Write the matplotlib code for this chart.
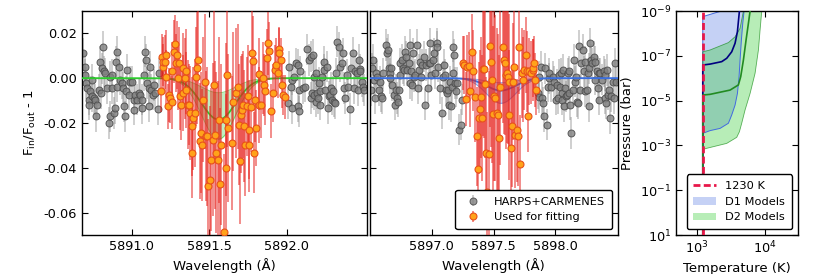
import numpy as np
import matplotlib
matplotlib.use('Agg')
import matplotlib.pyplot as plt
from matplotlib.ticker import FixedLocator, NullLocator, FormatStrFormatter

plt.rcParams['font.family'] = 'DejaVu Sans'
plt.rcParams['mathtext.fontset'] = 'dejavusans'
plt.rcParams['xtick.direction'] = 'in'
plt.rcParams['ytick.direction'] = 'in'
plt.rcParams['xtick.top'] = True
plt.rcParams['ytick.right'] = True
plt.rcParams['xtick.major.size'] = 4
plt.rcParams['ytick.major.size'] = 4
plt.rcParams['axes.linewidth'] = 1.0

# ---- Na D2 panel (5891.6 A) ----
wl_grey_d2 = [5890.684, 5890.699, 5890.699, 5890.705, 5890.710, 5890.720, 5890.722, 5890.731,
              5890.742, 5890.742, 5890.753, 5890.763, 5890.765, 5890.774, 5890.785, 5890.796,
              5890.798, 5890.806, 5890.813, 5890.817, 5890.828, 5890.839, 5890.849, 5890.856,
              5890.860, 5890.871, 5890.873, 5890.882, 5890.892, 5890.894, 5890.903, 5890.905,
              5890.914, 5890.925, 5890.935, 5890.942, 5890.946, 5890.957, 5890.959, 5890.968,
              5890.978, 5890.989, 5891.000, 5891.011, 5891.015, 5891.021, 5891.032, 5891.043,
              5891.054, 5891.064, 5891.066, 5891.075, 5891.086, 5891.092, 5891.097, 5891.107,
              5891.109, 5891.118, 5891.122, 5891.135, 5891.140, 5891.152, 5891.170, 5891.176,
              5892.006, 5892.017, 5892.028, 5892.034, 5892.038, 5892.049, 5892.060, 5892.071,
              5892.071, 5892.077, 5892.081, 5892.086, 5892.107, 5892.116, 5892.133, 5892.144,
              5892.155, 5892.159, 5892.165, 5892.172, 5892.176, 5892.180, 5892.187, 5892.193,
              5892.198, 5892.202, 5892.208, 5892.215, 5892.219, 5892.230, 5892.241, 5892.245,
              5892.251, 5892.262, 5892.266, 5892.273, 5892.279, 5892.284, 5892.294, 5892.301,
              5892.305, 5892.316, 5892.322, 5892.327, 5892.337, 5892.348, 5892.359, 5892.365,
              5892.370, 5892.380, 5892.391, 5892.395, 5892.408, 5892.417, 5892.430, 5892.434,
              5892.445, 5892.456, 5892.460, 5892.466, 5892.473, 5892.477, 5892.488, 5892.494,
              5892.499]
fl_grey_d2 = [0.0111, 0.0052, 0.0015, -0.0022, -0.0044, -0.0096, -0.0118, -0.0059,
              -0.0007, -0.0081, -0.0089, -0.0096, -0.0170, -0.0118, -0.0052, 0.0074,
              -0.0067, 0.0044, 0.0141, 0.0030, 0.0022, -0.0044, -0.0200, -0.0170,
              0.0007, -0.0044, 0.0015, -0.0155, -0.0133, 0.0074, 0.0118, -0.0037,
              0.0052, -0.0007, -0.0022, -0.0044, -0.0126, -0.0170, -0.0059, 0.0037,
              -0.0074, -0.0015, -0.0015, -0.0096, -0.0141, -0.0074, -0.0096, -0.0067,
              -0.0074, -0.0096, -0.0133, 0.0015, 0.0118, 0.0081, -0.0022, -0.0044,
              -0.0126, 0.0052, -0.0052, -0.0074, -0.0030, -0.0067, -0.0138, 0.0022,
              -0.0111, 0.0052, -0.0037, -0.0007, -0.0133, 0.0007, 0.0067, 0.0059,
              -0.0126, -0.0052, -0.0148, 0.0030, -0.0044, -0.0037, 0.0129, 0.0081,
              -0.0089, 0.0096, -0.0064, 0.0104, -0.0074, 0.0007, 0.0022, -0.0104,
              -0.0067, -0.0089, -0.0022, -0.0059, -0.0118, 0.0007, 0.0037, 0.0074,
              -0.0052, 0.0052, -0.0133, -0.0081, -0.0074, -0.0044, -0.0096, -0.0059,
              -0.0104, -0.0111, 0.0022, 0.0163, 0.0138, 0.0052, 0.0067, 0.0111,
              -0.0044, -0.0089, 0.0015, -0.0037, -0.0138, 0.0044, 0.0114, -0.0044,
              0.0030, 0.0022, -0.0052, 0.0081, 0.0040, 0.0030, -0.0015, -0.0037,
              -0.0052]
err_grey_d2 = 0.007

wl_fit_d2 = [5891.185, 5891.191, 5891.198, 5891.202, 5891.213, 5891.219, 5891.223, 5891.234,
             5891.241, 5891.245, 5891.256, 5891.262, 5891.271, 5891.277, 5891.284, 5891.292,
             5891.299, 5891.305, 5891.309, 5891.320, 5891.327, 5891.331, 5891.342, 5891.348,
             5891.352, 5891.363, 5891.370, 5891.374, 5891.385, 5891.391, 5891.395, 5891.406,
             5891.413, 5891.421, 5891.428, 5891.438, 5891.449, 5891.456, 5891.460, 5891.471,
             5891.477, 5891.486, 5891.492, 5891.503, 5891.514, 5891.524, 5891.529, 5891.535,
             5891.546, 5891.557, 5891.563, 5891.567, 5891.578, 5891.593, 5891.606, 5891.610,
             5891.615, 5891.621, 5891.647, 5891.656, 5891.673, 5891.684, 5891.690, 5891.699,
             5891.705, 5891.712, 5891.720, 5891.727, 5891.733, 5891.742, 5891.748, 5891.755,
             5891.759, 5891.770, 5891.776, 5891.780, 5891.791, 5891.798, 5891.802, 5891.819,
             5891.823, 5891.834, 5891.845, 5891.856, 5891.862, 5891.871, 5891.877, 5891.888,
             5891.899, 5891.909, 5891.927, 5891.931, 5891.942, 5891.948, 5891.953, 5891.963,
             5891.970, 5891.978, 5891.991]
fl_fit_d2 = [-0.0059, 0.0096, 0.0052, 0.0074, 0.0074, 0.0104, 0.0007, -0.0126,
             -0.0074, -0.0089, 0.0030, -0.0108, 0.0118, 0.0151, 0.0067, 0.0104,
             0.0000, 0.0067, -0.0081, -0.0118, -0.0067, 0.0044, 0.0000, -0.0052,
             0.0030, -0.0118, -0.0118, -0.0155, -0.0215, -0.0333, -0.0178, -0.0155,
             0.0007, 0.0044, 0.0081, -0.0281, -0.0244, -0.0296, -0.0096, -0.0015,
             -0.0259, -0.0259, -0.0481, -0.0454, -0.0363, -0.0274, -0.0030, -0.0252,
             -0.0333, -0.0363, -0.0185, -0.0474, -0.0296, -0.0688, -0.0185, -0.0400,
             0.0015, -0.0222, -0.0289, -0.0104, -0.0067, -0.0037, -0.0207, -0.0370,
             -0.0163, -0.0141, -0.0118, -0.0215, -0.0296, -0.0126, -0.0081, -0.0296,
             -0.0229, -0.0130, 0.0111, 0.0078, -0.0333, -0.0096, -0.0222, 0.0019,
             -0.0118, -0.0118, 0.0000, -0.0030, -0.0059, 0.0089, 0.0155, 0.0121,
             -0.0148, -0.0067, 0.0037, 0.0059, 0.0022, 0.0129, 0.0114, 0.0081,
             -0.0031, -0.0074, -0.0084]
er_fit_d2 = [0.009, 0.010, 0.010, 0.011, 0.012, 0.011, 0.012, 0.010,
             0.012, 0.011, 0.013, 0.012, 0.014, 0.013, 0.013, 0.015,
             0.014, 0.016, 0.015, 0.016, 0.017, 0.016, 0.018, 0.017,
             0.019, 0.020, 0.018, 0.021, 0.022, 0.020, 0.023, 0.024,
             0.022, 0.025, 0.024, 0.026, 0.027, 0.025, 0.028, 0.030,
             0.029, 0.031, 0.030, 0.033, 0.032, 0.034, 0.035, 0.033,
             0.036, 0.035, 0.037, 0.034, 0.036, 0.035, 0.034, 0.033,
             0.032, 0.033, 0.030, 0.031, 0.029, 0.028, 0.027, 0.028,
             0.026, 0.025, 0.024, 0.025, 0.023, 0.022, 0.023, 0.021,
             0.022, 0.020, 0.019, 0.020, 0.018, 0.019, 0.017, 0.016,
             0.017, 0.015, 0.016, 0.014, 0.015, 0.013, 0.014, 0.013,
             0.012, 0.013, 0.011, 0.012, 0.011, 0.010, 0.011, 0.010,
             0.010, 0.009, 0.010]

# gaussian fit: centre, width, depth (median, shallow, deep)
d2_centre, d2_sigma = 5891.56, 0.11
d2_depth, d2_depth_lo, d2_depth_hi = 0.0185, 0.0065, 0.0272

# ---- Na D1 panel (5897.6 A) ----
wl_grey_d1 = [5896.510, 5896.519, 5896.527, 5896.532, 5896.537, 5896.545, 5896.559, 5896.572,
              5896.580, 5896.586, 5896.599, 5896.607, 5896.626, 5896.639, 5896.645, 5896.653,
              5896.661, 5896.666, 5896.672, 5896.680, 5896.693, 5896.699, 5896.707, 5896.720,
              5896.726, 5896.734, 5896.742, 5896.747, 5896.760, 5896.769, 5896.779, 5896.787,
              5896.795, 5896.801, 5896.814, 5896.822, 5896.828, 5896.833, 5896.841, 5896.849,
              5896.855, 5896.868, 5896.881, 5896.887, 5896.895, 5896.908, 5896.914, 5896.922,
              5896.935, 5896.949, 5896.957, 5896.967, 5896.976, 5896.984, 5896.989, 5896.994,
              5897.013, 5897.019, 5897.027, 5897.040, 5897.045, 5897.054, 5897.067, 5897.080,
              5897.088, 5897.099, 5897.107, 5897.115, 5897.126, 5897.134, 5897.142, 5897.148,
              5897.153, 5897.161, 5897.169, 5897.175, 5897.180, 5897.188, 5897.196, 5897.207,
              5897.223, 5897.234, 5897.242,
              5897.857, 5897.865, 5897.871, 5897.884, 5897.892, 5897.898, 5897.911, 5897.919,
              5897.930, 5897.938, 5897.946, 5897.951, 5897.965, 5897.978, 5897.992, 5898.005,
              5898.011, 5898.024, 5898.029, 5898.035, 5898.043, 5898.051, 5898.056, 5898.062,
              5898.070, 5898.078, 5898.083, 5898.096, 5898.105, 5898.110, 5898.115, 5898.123,
              5898.131, 5898.142, 5898.150, 5898.158, 5898.169, 5898.177, 5898.185, 5898.196,
              5898.204, 5898.212, 5898.223, 5898.231, 5898.239, 5898.244, 5898.258, 5898.266,
              5898.271, 5898.277, 5898.285, 5898.293, 5898.298, 5898.312, 5898.320, 5898.325,
              5898.338, 5898.346, 5898.352, 5898.357, 5898.365, 5898.379, 5898.392, 5898.400,
              5898.406, 5898.411, 5898.419, 5898.427, 5898.438, 5898.446, 5898.454, 5898.465,
              5898.473, 5898.486, 5898.492]
fl_grey_d1 = [-0.0052, 0.0044, 0.0081, -0.0007, -0.0089, 0.0022, 0.0007, -0.0052,
              -0.0015, -0.0081, -0.0089, 0.0022, 0.0148, 0.0111, 0.0126, 0.0044,
              0.0022, 0.0000, 0.0044, -0.0030, -0.0074, -0.0118, -0.0052, -0.0089,
              -0.0104, -0.0052, 0.0067, 0.0015, 0.0081, 0.0044, 0.0037, 0.0118,
              0.0096, 0.0037, 0.0067, 0.0148, -0.0022, 0.0030, -0.0030, 0.0111,
              0.0007, 0.0015, 0.0148, -0.0044, 0.0037, 0.0074, 0.0007, 0.0059,
              0.0096, -0.0118, 0.0059, -0.0044, 0.0067, 0.0155, 0.0067, 0.0015,
              0.0081, 0.0111, 0.0022, 0.0155, 0.0141, 0.0052, -0.0044, -0.0155,
              0.0007, 0.0059, 0.0015, -0.0052, -0.0067, -0.0052, -0.0118, -0.0015,
              -0.0126, -0.0037, 0.0141, 0.0022, 0.0104, -0.0022, -0.0059, -0.0022,
              -0.0229, -0.0207, -0.0096,
              -0.0067, -0.0084, 0.0007, 0.0052, -0.0089, -0.0111, -0.0170, 0.0044,
              -0.0207, -0.0037, 0.0000, 0.0022, -0.0037, 0.0007, -0.0015, -0.0096,
              -0.0030, -0.0089, 0.0015, -0.0037, 0.0022, -0.0067, -0.0096, 0.0037,
              -0.0126, -0.0044, -0.0081, -0.0074, 0.0022, -0.0067, 0.0030, -0.0118,
              -0.0244, -0.0052, 0.0081, -0.0015, 0.0007, -0.0104, -0.0111, 0.0144,
              -0.0052, 0.0067, 0.0126, 0.0030, -0.0059, 0.0074, -0.0052, 0.0022,
              -0.0126, 0.0044, 0.0155, 0.0081, 0.0067, 0.0096, 0.0074, -0.0007,
              0.0030, -0.0044, 0.0022, -0.0096, 0.0022, -0.0007, 0.0030, -0.0089,
              0.0015, -0.0111, 0.0037, -0.0074, -0.0052, -0.0178, -0.0081, -0.0015,
              -0.0089, 0.0067, -0.0015]
err_grey_d1 = 0.007

wl_fit_d1 = [5897.250, 5897.260, 5897.277, 5897.287, 5897.303, 5897.309, 5897.322, 5897.330,
             5897.349, 5897.363, 5897.376, 5897.384, 5897.389, 5897.395, 5897.403, 5897.411,
             5897.422, 5897.430, 5897.443, 5897.450, 5897.465, 5897.470, 5897.476, 5897.484,
             5897.492, 5897.502, 5897.516, 5897.527, 5897.535, 5897.543, 5897.554, 5897.575,
             5897.588, 5897.597, 5897.602, 5897.607, 5897.615, 5897.623, 5897.629, 5897.642,
             5897.650, 5897.661, 5897.669, 5897.677, 5897.688, 5897.696, 5897.709, 5897.715,
             5897.731, 5897.742, 5897.750, 5897.763, 5897.769, 5897.777, 5897.790, 5897.804,
             5897.817, 5897.822, 5897.830, 5897.838, 5897.844]
fl_fit_d1 = [0.0067, 0.0059, -0.0093, 0.0052, 0.0055, -0.0059, 0.0118, 0.0034,
             -0.0084, -0.0259, -0.0407, -0.0178, -0.0136, -0.0084, -0.0178, 0.0040,
             0.0041, -0.0025, -0.0333, -0.0510, -0.0340, 0.0144, 0.0071, -0.0010,
             -0.0158, -0.0078, -0.0089, -0.0155, -0.0163, -0.0266, -0.0037, 0.0141,
             0.0081, 0.0067, 0.0015, 0.0022, 0.0007, -0.0163, -0.0015, -0.0311,
             -0.0215, -0.0015, 0.0052, -0.0252, -0.0232, -0.0259, 0.0141, -0.0385,
             0.0022, -0.0007, 0.0037, 0.0104, 0.0030, -0.0170, 0.0030, 0.0025,
             0.0037, 0.0044, 0.0067, -0.0007, -0.0052]
er_fit_d1 = [0.012, 0.013, 0.012, 0.014, 0.015, 0.016, 0.017, 0.018,
             0.020, 0.022, 0.024, 0.025, 0.026, 0.027, 0.028, 0.030,
             0.031, 0.033, 0.034, 0.036, 0.037, 0.036, 0.038, 0.037,
             0.039, 0.038, 0.037, 0.038, 0.036, 0.037, 0.035, 0.034,
             0.033, 0.032, 0.033, 0.031, 0.030, 0.029, 0.030, 0.028,
             0.027, 0.026, 0.025, 0.024, 0.023, 0.022, 0.021, 0.022,
             0.020, 0.019, 0.018, 0.017, 0.018, 0.016, 0.015, 0.014,
             0.014, 0.013, 0.012, 0.012, 0.011]

d1_centre, d1_sigma = 5897.56, 0.12
d1_depth, d1_depth_lo, d1_depth_hi = 0.0055, 0.0020, 0.0112

# ---- temperature-pressure panel ----
t_iso = 1230
d1_lo_T = [1230, 1230, 1700, 2300]
d1_lo_logP = [1.0, -8.75, -8.88, -9.0]
d1_hi_T = [1230, 1230, 1571, 2199, 2911, 3256, 3643, 3944, 4169, 4310, 4508, 4718, 4932]
d1_hi_logP = [1.0, -3.54, -3.66, -3.76, -3.99, -4.36, -4.80, -5.32, -6.07, -6.81, -7.71, -8.45, -9.0]
d1_med_T = [1230, 1230, 1571, 2326, 2752, 3256, 3643, 3944, 4217]
d1_med_logP = [1.0, -6.59, -6.63, -6.74, -6.89, -7.18, -7.56, -8.08, -9.0]

d2_lo_T = [1230, 1230, 1571, 2080, 2911, 3643, 4310, 4822]
d2_lo_logP = [1.0, -7.18, -7.26, -7.41, -7.59, -7.85, -8.23, -9.0]
d2_hi_T = [1230, 1230, 1404, 2752, 3853, 4217, 4559, 5100, 6039, 7144, 7994, 8451, 8940]
d2_hi_logP = [1.0, -2.82, -2.87, -3.09, -3.36, -3.61, -3.99, -4.58, -5.32, -6.22, -7.26, -8.15, -9.0]
d2_med_T = [1230, 1230, 1571, 3079, 4075, 4406, 4822, 5277, 5706, 6039]
d2_med_logP = [1.0, -5.25, -5.28, -5.47, -5.70, -6.07, -6.81, -7.71, -8.45, -9.0]


fig = plt.figure(figsize=(8.22, 2.74), dpi=100)
ax1 = fig.add_axes([0.0998, 0.1423, 0.3467, 0.8175])
ax2 = fig.add_axes([0.4501, 0.1423, 0.3013, 0.8175], sharey=ax1)
ax3 = fig.add_axes([0.8224, 0.1423, 0.1481, 0.8175])

grey_kw = dict(fmt='o', ms=5, mfc=(0.5, 0.5, 0.5, 0.8), mec=(0.3, 0.3, 0.3, 0.9), mew=0.7,
               ecolor=(0.55, 0.55, 0.55, 0.45), elinewidth=1.3, capsize=0, zorder=2)
fit_kw = dict(fmt='o', ms=5, mfc='#ffa31a', mec='#e8501a', mew=0.8,
              ecolor=(0.9, 0.12, 0.1, 0.55), elinewidth=1.3, capsize=0, zorder=4)


def model_panel(ax, xlim, centre, sigma, depths, line_col, fill_col):
    x = np.linspace(xlim[0], xlim[1], 600)
    prof = np.exp(-0.5 * ((x - centre) / sigma) ** 2)
    d_med, d_lo, d_hi = depths
    ax.fill_between(x, -d_lo * prof, -d_hi * prof, color=fill_col, alpha=0.3, lw=0, zorder=3)
    ax.plot(x, -d_lo * prof, color=line_col, lw=0.7, alpha=0.6, zorder=3)
    ax.plot(x, -d_hi * prof, color=line_col, lw=0.7, alpha=0.6, zorder=3)
    ax.plot(x, -d_med * prof, color=line_col, lw=1.3, zorder=3)


xlim1 = (5890.677, 5892.52)
ax1.errorbar(wl_grey_d2, fl_grey_d2, yerr=err_grey_d2, **grey_kw)
ax1.errorbar(wl_fit_d2, fl_fit_d2, yerr=er_fit_d2, **fit_kw)
model_panel(ax1, xlim1, d2_centre, d2_sigma, (d2_depth, d2_depth_lo, d2_depth_hi),
            '#2ecc2e', '#33cc33')
ax1.set_xlim(*xlim1)
ax1.set_ylim(-0.07, 0.03)
ax1.xaxis.set_major_locator(FixedLocator([5891.0, 5891.5, 5892.0]))
ax1.xaxis.set_major_formatter(FormatStrFormatter('%.1f'))
ax1.yaxis.set_major_locator(FixedLocator([-0.06, -0.04, -0.02, 0.0, 0.02]))
ax1.yaxis.set_major_formatter(FormatStrFormatter('%.2f'))
ax1.set_xlabel('Wavelength (Å)', fontsize=9.5)
ax1.set_ylabel(r'F$_{\rm in}$/F$_{\rm out}$ - 1', fontsize=9.5)

xlim2 = (5896.50, 5898.505)
h1 = ax2.errorbar(wl_grey_d1, fl_grey_d1, yerr=err_grey_d1, label='HARPS+CARMENES', **grey_kw)
h2 = ax2.errorbar(wl_fit_d1, fl_fit_d1, yerr=er_fit_d1, label='Used for fitting', **fit_kw)
model_panel(ax2, xlim2, d1_centre, d1_sigma, (d1_depth, d1_depth_lo, d1_depth_hi),
            '#3b6fe0', '#4a7be8')
ax2.set_xlim(*xlim2)
ax2.xaxis.set_major_locator(FixedLocator([5897.0, 5897.5, 5898.0]))
ax2.xaxis.set_major_formatter(FormatStrFormatter('%.1f'))
ax2.tick_params(labelleft=False)
ax2.set_xlabel('Wavelength (Å)', fontsize=9.5)
leg = ax2.legend(handles=[h1, h2], loc='lower right', fontsize=8.2, numpoints=1,
                 fancybox=True, framealpha=1, edgecolor='black', borderpad=0.6)
leg.get_frame().set_linewidth(1.0)
leg.set_zorder(10)

for ax in (ax1, ax2):
    ax.tick_params(labelsize=9.3)

# T-P panel
def poly(lo_T, lo_logP, hi_T, hi_logP):
    xs = list(lo_T) + list(hi_T[::-1])
    ys = list(10.0 ** np.array(lo_logP)) + list(10.0 ** np.array(hi_logP[::-1]))
    return xs, ys

xs, ys = poly(d1_lo_T, d1_lo_logP, d1_hi_T, d1_hi_logP)
ax3.fill(xs, ys, color='royalblue', alpha=0.3, lw=0, label='D1 Models', zorder=1)
xs, ys = poly(d2_lo_T, d2_lo_logP, d2_hi_T, d2_hi_logP)
ax3.fill(xs, ys, color='limegreen', alpha=0.35, lw=0, label='D2 Models', zorder=1)
ax3.plot(d1_lo_T, 10.0 ** np.array(d1_lo_logP), color='royalblue', lw=0.7, zorder=2)
ax3.plot(d1_hi_T, 10.0 ** np.array(d1_hi_logP), color='royalblue', lw=0.7, zorder=2)
ax3.plot(d2_lo_T, 10.0 ** np.array(d2_lo_logP), color='green', lw=0.6, alpha=0.6, zorder=2)
ax3.plot(d2_hi_T, 10.0 ** np.array(d2_hi_logP), color='green', lw=0.6, alpha=0.6, zorder=2)
ax3.plot(d1_med_T, 10.0 ** np.array(d1_med_logP), color='navy', lw=1.2, zorder=3)
ax3.plot(d2_med_T, 10.0 ** np.array(d2_med_logP), color='forestgreen', lw=1.2, zorder=3)
ax3.axvline(t_iso, color='#e8174a', lw=2, ls=(0, (2.5, 1.2)), label='1230 K', zorder=4)
ax3.set_xscale('log')
ax3.set_yscale('log')
ax3.set_xlim(500, 30000)
ax3.set_ylim(10, 1e-9)
ax3.yaxis.set_major_locator(FixedLocator([1e-9, 1e-7, 1e-5, 1e-3, 1e-1, 1e1]))
ax3.yaxis.set_minor_locator(NullLocator())
ax3.xaxis.set_major_locator(FixedLocator([1e3, 1e4]))
ax3.xaxis.set_minor_locator(NullLocator())
ax3.tick_params(labelsize=9.3)
ax3.set_xlabel('Temperature (K)', fontsize=9.5)
ax3.set_ylabel('Pressure (bar)', fontsize=9.5)
handles, labels = ax3.get_legend_handles_labels()
order = [labels.index(l) for l in ['1230 K', 'D1 Models', 'D2 Models']]
leg3 = ax3.legend([handles[i] for i in order], [labels[i] for i in order], loc='lower right',
                  fontsize=8.2, fancybox=True, framealpha=1, edgecolor='black', borderpad=0.6)
leg3.get_frame().set_linewidth(1.0)

fig.savefig('out.png', dpi=100)
